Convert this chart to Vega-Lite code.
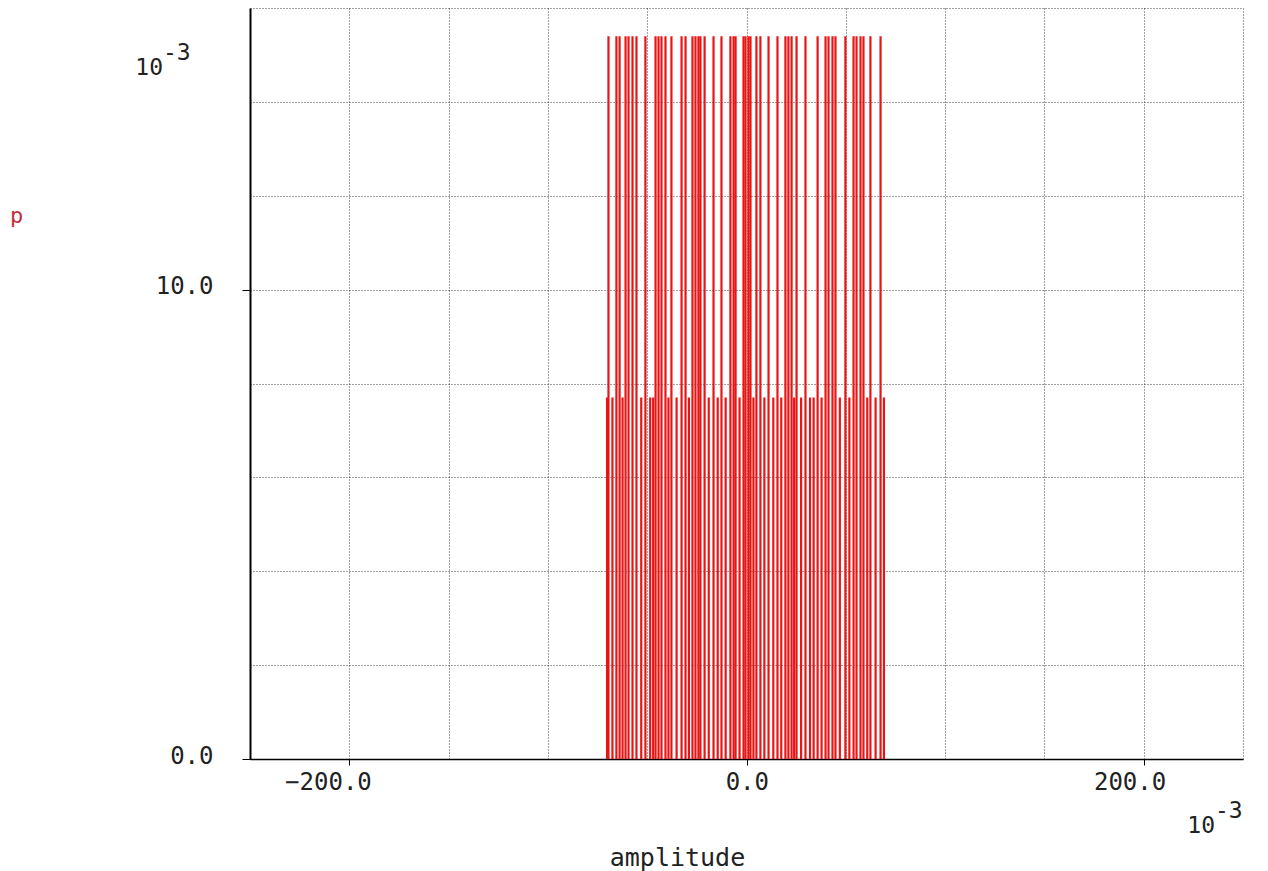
{
  "$schema": "https://vega.github.io/schema/vega-lite/v6.json",
  "width": 993,
  "height": 751,
  "autosize": "none",
  "padding": {"left": 250, "top": 8, "right": 25, "bottom": 112},
  "background": "white",
  "config": {
    "view": {"stroke": null},
    "font": "DejaVu Sans Mono",
    "axis": {"labelFont": "DejaVu Sans Mono", "titleFont": "DejaVu Sans Mono", "labelFontWeight": "normal", "titleFontWeight": "normal"}
  },
  "datasets": {
    "spikes": [
      {"x": -70.2, "p": 7.7}, {"x": -69.5, "p": 15.4}, {"x": -67.5, "p": 7.7}, {"x": -65.5, "p": 15.4},
      {"x": -63.9, "p": 15.4}, {"x": -62.4, "p": 7.7}, {"x": -60.9, "p": 15.4}, {"x": -59.4, "p": 15.4},
      {"x": -57.4, "p": 15.4}, {"x": -55.4, "p": 15.4}, {"x": -53.0, "p": 7.7}, {"x": -50.9, "p": 15.4},
      {"x": -48.5, "p": 7.7}, {"x": -47.0, "p": 7.7}, {"x": -45.8, "p": 15.4}, {"x": -44.3, "p": 15.4},
      {"x": -42.8, "p": 15.4}, {"x": -40.8, "p": 15.4}, {"x": -39.3, "p": 7.7}, {"x": -37.8, "p": 15.4},
      {"x": -35.2, "p": 7.7}, {"x": -32.7, "p": 15.4}, {"x": -30.7, "p": 15.4}, {"x": -29.0, "p": 7.7},
      {"x": -27.2, "p": 15.4}, {"x": -25.7, "p": 15.4}, {"x": -24.2, "p": 15.4}, {"x": -23.2, "p": 15.4},
      {"x": -21.1, "p": 15.4}, {"x": -19.0, "p": 7.7}, {"x": -16.6, "p": 15.4}, {"x": -14.5, "p": 7.7},
      {"x": -12.6, "p": 15.4}, {"x": -10.5, "p": 7.7}, {"x": -8.1, "p": 15.4}, {"x": -6.5, "p": 15.4},
      {"x": -5.5, "p": 15.4}, {"x": -3.5, "p": 7.7}, {"x": -1.5, "p": 15.4}, {"x": -0.5, "p": 15.4},
      {"x": 1.0, "p": 15.4}, {"x": 2.0, "p": 15.4}, {"x": 3.5, "p": 7.7}, {"x": 5.0, "p": 15.4},
      {"x": 7.0, "p": 15.4}, {"x": 9.0, "p": 7.7}, {"x": 11.1, "p": 15.4}, {"x": 13.5, "p": 7.7},
      {"x": 15.6, "p": 15.4}, {"x": 17.5, "p": 7.7}, {"x": 19.6, "p": 15.4}, {"x": 21.1, "p": 15.4},
      {"x": 22.7, "p": 15.4}, {"x": 24.0, "p": 7.7}, {"x": 25.2, "p": 15.4}, {"x": 27.5, "p": 7.7},
      {"x": 29.7, "p": 15.4}, {"x": 32.0, "p": 7.7}, {"x": 33.8, "p": 7.7}, {"x": 35.8, "p": 15.4},
      {"x": 37.8, "p": 7.7}, {"x": 39.8, "p": 15.4}, {"x": 41.3, "p": 15.4}, {"x": 43.3, "p": 15.4},
      {"x": 44.8, "p": 15.4}, {"x": 47.0, "p": 7.7}, {"x": 49.8, "p": 15.4}, {"x": 51.8, "p": 7.7},
      {"x": 53.9, "p": 15.4}, {"x": 55.4, "p": 15.4}, {"x": 57.4, "p": 15.4}, {"x": 58.9, "p": 15.4},
      {"x": 60.8, "p": 7.7}, {"x": 62.4, "p": 15.4}, {"x": 65.0, "p": 7.7}, {"x": 67.5, "p": 15.4},
      {"x": 69.2, "p": 7.7}
    ]
  },
  "layer": [
    {
      "data": {"name": "spikes"},
      "mark": {"type": "rule", "color": "#e81515", "strokeWidth": 2.2},
      "encoding": {
        "x": {
          "field": "x", "type": "quantitative",
          "scale": {"domain": [-250, 250], "nice": false, "zero": false},
          "axis": {
            "values": [-200, -150, -100, -50, 0, 50, 100, 150, 200, 250],
            "labelExpr": "datum.value == -200 || datum.value == 0 || datum.value == 200 ? format(datum.value, '.1f') : ''",
            "grid": true, "gridColor": "#000000", "gridDash": [1, 2], "gridWidth": 1, "gridOpacity": 0.75,
            "domainColor": "black", "domainWidth": 1.5,
            "tickColor": "black", "tickSize": 6,
            "tickOpacity": {"condition": {"test": "datum.value == -200 || datum.value == 0 || datum.value == 200", "value": 1}, "value": 0},
            "labelFontSize": 24, "labelColor": "#222222", "labelPadding": 5,
            "labelAlign": "right", "labelOffset": 22,
            "title": "amplitude", "titleFontSize": 25, "titleColor": "#222222",
            "titleX": 427, "titleY": 98, "titleBaseline": "middle", "titleAnchor": "middle", "titleAlign": "center"
          }
        },
        "y": {
          "field": "p", "type": "quantitative",
          "scale": {"domain": [0, 16], "nice": false},
          "axis": {
            "values": [0, 2, 4, 6, 8, 10, 12, 14, 16],
            "labelExpr": "datum.value == 0 || datum.value == 10 ? format(datum.value, '.1f') : ''",
            "grid": true, "gridColor": "#000000", "gridDash": [1, 2], "gridWidth": 1, "gridOpacity": 0.75,
            "domainColor": "black", "domainWidth": 2,
            "tickColor": "black", "tickSize": 8,
            "tickOpacity": {"condition": {"test": "datum.value == 0 || datum.value == 10", "value": 1}, "value": 0},
            "labelFontSize": 24, "labelColor": "#222222", "labelPadding": 29, "labelOffset": -3,
            "title": "p", "titleFontSize": 22, "titleColor": "#c0303a", "titleAngle": 0,
            "titleX": -234, "titleY": 207, "titleBaseline": "middle", "titleAlign": "center"
          }
        },
        "y2": {"datum": 0}
      }
    },
    {
      "mark": {"type": "rule", "color": "#ee1111", "strokeWidth": 1.5},
      "encoding": {"y": {"datum": 0}}
    },
    {
      "data": {"values": [{"x": -250, "y": 16, "t": "10"}]},
      "mark": {"type": "text", "fontSize": 23, "color": "#222222", "align": "right", "baseline": "alphabetic", "dx": -87, "dy": 67},
      "encoding": {"x": {"field": "x", "type": "quantitative"}, "y": {"field": "y", "type": "quantitative"}, "text": {"field": "t"}}
    },
    {
      "data": {"values": [{"x": -250, "y": 16, "t": "-3"}]},
      "mark": {"type": "text", "fontSize": 23, "color": "#222222", "align": "left", "baseline": "alphabetic", "dx": -87, "dy": 52},
      "encoding": {"x": {"field": "x", "type": "quantitative"}, "y": {"field": "y", "type": "quantitative"}, "text": {"field": "t"}}
    },
    {
      "data": {"values": [{"x": 250, "y": 0, "t": "10"}]},
      "mark": {"type": "text", "fontSize": 23, "color": "#222222", "align": "right", "baseline": "alphabetic", "dx": -28, "dy": 74},
      "encoding": {"x": {"field": "x", "type": "quantitative"}, "y": {"field": "y", "type": "quantitative"}, "text": {"field": "t"}}
    },
    {
      "data": {"values": [{"x": 250, "y": 0, "t": "-3"}]},
      "mark": {"type": "text", "fontSize": 23, "color": "#222222", "align": "left", "baseline": "alphabetic", "dx": -28, "dy": 59},
      "encoding": {"x": {"field": "x", "type": "quantitative"}, "y": {"field": "y", "type": "quantitative"}, "text": {"field": "t"}}
    }
  ]
}
